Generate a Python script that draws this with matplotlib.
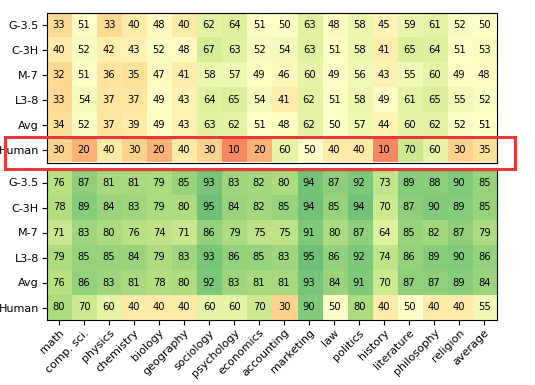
import matplotlib
matplotlib.use("Agg")
import matplotlib.pyplot as plt
import numpy as np
from matplotlib.patches import Rectangle

subjects = ["math", "comp. sci.", "physics", "chemistry", "biology", "geography",
            "sociology", "psychology", "economics", "accounting", "marketing", "law",
            "politics", "history", "literature", "philosophy", "religion", "average"]
rows = ["G-3.5", "C-3H", "M-7", "L3-8", "Avg", "Human"]

top_g35 = [33, 51, 33, 40, 48, 40, 62, 64, 51, 50, 63, 48, 58, 45, 59, 61, 52, 50]
top_c3h = [40, 52, 42, 43, 52, 48, 67, 63, 52, 54, 63, 51, 58, 41, 65, 64, 51, 53]
top_m7 = [32, 51, 36, 35, 47, 41, 58, 57, 49, 46, 60, 49, 56, 43, 55, 60, 49, 48]
top_l38 = [33, 54, 37, 37, 49, 43, 64, 65, 54, 41, 62, 51, 58, 49, 61, 65, 55, 52]
top_avg = [34, 52, 37, 39, 49, 43, 63, 62, 51, 48, 62, 50, 57, 44, 60, 62, 52, 51]
top_human = [30, 20, 40, 30, 20, 40, 30, 10, 20, 60, 50, 40, 40, 10, 70, 60, 30, 35]

bot_g35 = [76, 87, 81, 81, 79, 85, 93, 83, 82, 80, 94, 87, 92, 73, 89, 88, 90, 85]
bot_c3h = [78, 89, 84, 83, 79, 80, 95, 84, 82, 85, 94, 85, 94, 70, 87, 90, 89, 85]
bot_m7 = [71, 83, 80, 76, 74, 71, 86, 79, 75, 75, 91, 80, 87, 64, 85, 82, 87, 79]
bot_l38 = [79, 85, 85, 84, 79, 83, 93, 86, 85, 83, 95, 86, 92, 74, 86, 89, 90, 86]
bot_avg = [76, 86, 83, 81, 78, 80, 92, 83, 81, 81, 93, 84, 91, 70, 87, 87, 89, 84]
bot_human = [80, 70, 60, 40, 40, 40, 60, 60, 70, 30, 90, 50, 80, 40, 50, 40, 40, 55]

top = np.array([top_g35, top_c3h, top_m7, top_l38, top_avg, top_human])
bot = np.array([bot_g35, bot_c3h, bot_m7, bot_l38, bot_avg, bot_human])

W, H = 535, 385
fig = plt.figure(figsize=(W / 100, H / 100), dpi=100)

left, right = 46.5 / W, 496.7 / W
ax1 = fig.add_axes([left, 1 - 162.5 / H, right - left, 150 / H])
ax2 = fig.add_axes([left, 1 - 320 / H, right - left, 150 / H])

for ax, data in ((ax1, top), (ax2, bot)):
    ax.imshow(data, cmap="RdYlGn", vmin=-20, vmax=120, alpha=0.85, aspect="auto",
              interpolation="nearest")
    for i in range(data.shape[0]):
        for j in range(data.shape[1]):
            ax.text(j, i, str(data[i, j]), ha="center", va="center", fontsize=7.2,
                    color="black")
    ax.set_yticks(range(len(rows)))
    ax.set_yticklabels(rows, fontsize=8)
    ax.tick_params(axis="y", length=3.5, pad=2)

ax1.set_xticks([])
ax2.set_xticks(range(len(subjects)))
ax2.set_xticklabels(subjects, rotation=45, ha="right", rotation_mode="anchor", fontsize=8)
ax2.tick_params(axis="x", length=3.5, pad=2)

fig.patches.append(Rectangle((5 / W, 1 - 169 / H), 510 / W, 32 / H,
                             transform=fig.transFigure, fill=False,
                             edgecolor="#e8383b", linewidth=2.2))

fig.savefig("out.png", dpi=100)
